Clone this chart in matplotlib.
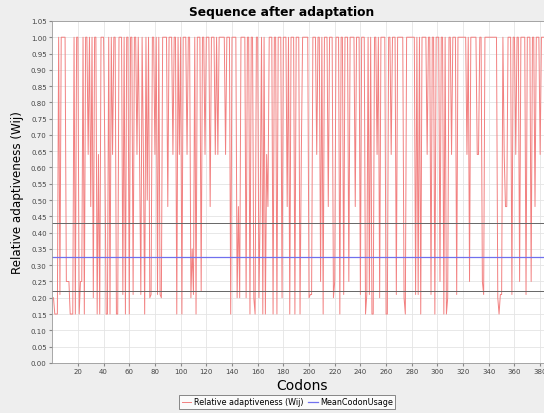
import numpy as np
import matplotlib.pyplot as plt

# relative adaptiveness per codon
wij = [
    0.2, 0.15, 0.15, 0.15, 1.0, 0.21, 1.0, 1.0, 1.0, 1.0, 0.25, 0.25, 0.25, 0.15, 0.15, 0.15, 1.0, 0.15, 1.0, 1.0,
    0.15, 0.25, 0.25, 1.0, 0.15, 1.0, 1.0, 0.64, 1.0, 0.48, 1.0, 0.2, 1.0, 1.0, 0.15, 0.64, 0.15, 1.0, 1.0, 1.0,
    0.64, 0.15, 0.15, 1.0, 0.15, 1.0, 0.64, 1.0, 1.0, 0.15, 0.15, 1.0, 1.0, 1.0, 0.21, 1.0, 0.15, 1.0, 1.0, 0.15,
    1.0, 1.0, 0.21, 1.0, 1.0, 0.64, 1.0, 0.64, 0.21, 1.0, 0.64, 0.15, 1.0, 0.5, 1.0, 0.2, 0.21, 1.0, 1.0, 0.64,
    1.0, 0.21, 1.0, 0.21, 0.2, 1.0, 1.0, 1.0, 1.0, 0.48, 1.0, 1.0, 1.0, 0.64, 1.0, 1.0, 0.15, 1.0, 0.64, 1.0,
    0.15, 1.0, 1.0, 1.0, 0.64, 1.0, 1.0, 0.2, 0.35, 0.21, 1.0, 0.15, 1.0, 1.0, 1.0, 0.22, 1.0, 1.0, 0.64, 1.0,
    1.0, 1.0, 0.48, 1.0, 1.0, 1.0, 0.64, 1.0, 0.64, 1.0, 1.0, 1.0, 1.0, 1.0, 0.64, 1.0, 1.0, 1.0, 0.15, 1.0,
    1.0, 1.0, 1.0, 0.2, 0.48, 0.2, 1.0, 1.0, 1.0, 1.0, 0.2, 1.0, 1.0, 0.15, 1.0, 1.0, 0.2, 0.15, 1.0, 1.0,
    0.2, 0.48, 1.0, 0.15, 1.0, 0.15, 0.64, 0.48, 1.0, 1.0, 1.0, 0.15, 1.0, 1.0, 0.15, 1.0, 1.0, 1.0, 0.2, 1.0,
    1.0, 1.0, 0.48, 1.0, 0.15, 1.0, 1.0, 1.0, 0.15, 1.0, 1.0, 1.0, 0.15, 0.64, 1.0, 1.0, 1.0, 1.0, 1.0, 0.2,
    0.21, 0.21, 1.0, 1.0, 1.0, 0.64, 1.0, 1.0, 0.25, 1.0, 0.15, 1.0, 1.0, 1.0, 0.48, 1.0, 1.0, 1.0, 0.2, 0.25,
    1.0, 1.0, 1.0, 0.15, 1.0, 1.0, 0.21, 1.0, 1.0, 1.0, 0.25, 1.0, 1.0, 1.0, 1.0, 0.48, 1.0, 1.0, 1.0, 0.21,
    1.0, 1.0, 1.0, 0.15, 0.21, 1.0, 0.21, 1.0, 0.15, 0.15, 1.0, 1.0, 0.64, 1.0, 0.2, 1.0, 1.0, 1.0, 1.0, 0.15,
    0.15, 1.0, 1.0, 0.64, 1.0, 1.0, 1.0, 0.21, 1.0, 1.0, 1.0, 1.0, 1.0, 0.2, 0.15, 1.0, 1.0, 1.0, 1.0, 1.0,
    1.0, 1.0, 0.21, 1.0, 0.21, 1.0, 0.15, 1.0, 1.0, 1.0, 1.0, 0.64, 1.0, 1.0, 0.21, 1.0, 1.0, 0.15, 1.0, 1.0,
    1.0, 0.25, 1.0, 1.0, 0.15, 1.0, 0.15, 0.2, 1.0, 1.0, 0.64, 1.0, 1.0, 1.0, 0.21, 1.0, 1.0, 1.0, 1.0, 1.0,
    1.0, 1.0, 0.64, 1.0, 0.25, 1.0, 1.0, 1.0, 1.0, 1.0, 0.64, 0.64, 1.0, 1.0, 0.25, 0.21, 1.0, 1.0, 1.0, 1.0,
    1.0, 1.0, 1.0, 1.0, 1.0, 1.0, 0.2, 0.15, 0.21, 0.21, 1.0, 0.64, 0.48, 0.48, 1.0, 1.0, 1.0, 0.21, 1.0, 1.0,
    0.64, 1.0, 1.0, 0.25, 1.0, 1.0, 1.0, 1.0, 0.21, 1.0, 1.0, 1.0, 0.25, 1.0, 1.0, 0.48, 1.0, 1.0, 1.0, 0.64,
    1.0, 1.0, 1.0,
]
codons = np.arange(1, len(wij) + 1)
mean_usage = 0.325
upper_line = 0.43
lower_line = 0.22

fig = plt.figure(figsize=(5.44, 4.14), dpi=100, facecolor='#eeeeee')
ax = fig.add_axes([0.096, 0.121, 0.904, 0.826])
ax.set_facecolor('white')

ax.plot(codons, wij, color='#f28080', linewidth=0.7, label='Relative adaptiveness (Wij)')
ax.axhline(upper_line, color='#666666', linewidth=0.7)
ax.axhline(lower_line, color='#666666', linewidth=0.7)
ax.axhline(mean_usage, color='#7070ee', linewidth=0.9, label='MeanCodonUsage')

ax.set_xlim(0, 383)
ax.set_ylim(0, 1.05)
ax.set_xticks(np.arange(20, 381, 20))
ax.set_yticks(np.arange(0, 1.051, 0.05))
ax.set_yticklabels(['%.2f' % v for v in np.arange(0, 1.051, 0.05)])
ax.tick_params(labelsize=5, length=2, color='#888888', labelcolor='#444444', pad=2)
ax.grid(True, color='#e4e4e4', linewidth=0.6)
ax.set_axisbelow(True)
for s in ax.spines.values():
    s.set_color('#999999')
    s.set_linewidth(0.6)

fig.text(0.518, 0.969, 'Sequence after adaptation', fontsize=8.8, fontweight='bold',
         ha='center', va='center')
ax.set_xlabel('Codons', fontsize=10, labelpad=2)
ax.xaxis.set_label_coords(0.508, -0.045)
ax.set_ylabel('Relative adaptiveness (Wij)', fontsize=8.6, labelpad=5)

leg = fig.legend(loc='center', bbox_to_anchor=(0.528, 0.027), ncol=2, fontsize=5.8,
                 frameon=True, fancybox=False, edgecolor='#555555', handlelength=1.2,
                 handletextpad=0.3, columnspacing=0.6, borderpad=0.3)
leg.get_frame().set_linewidth(0.6)

fig.savefig('out.png', dpi=100, facecolor=fig.get_facecolor())
